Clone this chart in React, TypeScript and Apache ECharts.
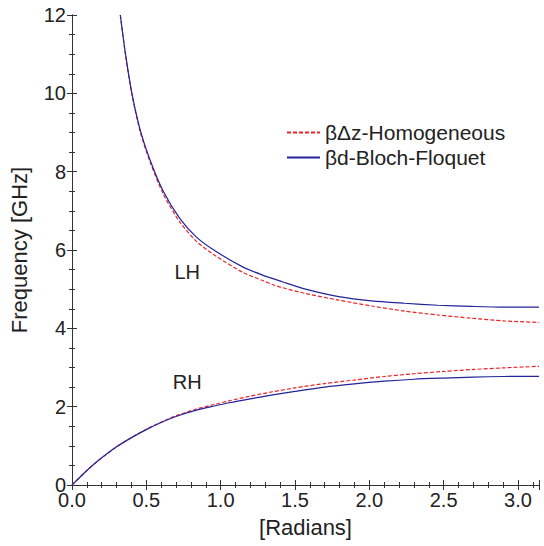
import React, { useEffect, useRef } from "react";
import * as echarts from "echarts";

// ---- Data ----
// Upper (left-handed) band
const UPPER_BLOCH_X = [0.325, 0.36, 0.403, 0.46, 0.525, 0.614, 0.726, 0.837, 0.97, 1.148, 1.282, 1.415, 1.571, 1.794, 2.016, 2.238, 2.461, 2.684, 2.906, 3.1416];
const UPPER_BLOCH_Y = [12.0, 11.0, 10.0, 9.05, 8.3, 7.5, 6.8, 6.33, 5.96, 5.57, 5.36, 5.19, 5.0, 4.81, 4.7, 4.64, 4.59, 4.56, 4.54, 4.54];
const UPPER_HOMO_X = [0.325, 0.36, 0.403, 0.46, 0.525, 0.614, 0.726, 0.837, 0.97, 1.148, 1.282, 1.348, 1.415, 1.571, 1.794, 2.016, 2.238, 2.461, 2.684, 2.906, 3.1416];
const UPPER_HOMO_Y = [12.0, 10.98, 9.97, 9.0, 8.25, 7.43, 6.71, 6.22, 5.84, 5.43, 5.22, 5.12, 5.04, 4.89, 4.72, 4.57, 4.44, 4.34, 4.26, 4.19, 4.15];
// Lower (right-handed) band
const LOWER_X = [0, 0.1, 0.169, 0.302, 0.4, 0.503, 0.614, 0.7, 0.837, 0.95, 1.059, 1.2, 1.35, 1.5, 1.7, 1.9, 2.1, 2.3, 2.5, 2.7, 2.9, 3.1416];
const LOWER_BLOCH_Y = [0, 0.37, 0.6, 0.98, 1.21, 1.42, 1.62, 1.75, 1.91, 2.01, 2.1, 2.2, 2.3, 2.39, 2.5, 2.58, 2.65, 2.7, 2.73, 2.755, 2.77, 2.775];
const LOWER_HOMO_Y = [0, 0.37, 0.6, 0.98, 1.21, 1.43, 1.63, 1.77, 1.94, 2.05, 2.15, 2.27, 2.38, 2.48, 2.59, 2.68, 2.77, 2.84, 2.9, 2.95, 2.99, 3.03];

const SERIES_NAMES = ["\u03b2\u0394z-Homogeneous", "\u03b2d-Bloch-Floquet"];
const BAND_LABELS = ["LH", "RH"];
const BAND_LABEL_X = [0.775, 0.775];
const BAND_LABEL_Y = [5.44, 2.62];
const X_MIN = 0;
const X_MAX = Math.PI;
const Y_MIN = 0;
const Y_MAX = 12;

const zip = (xs: number[], ys: number[]) => xs.map((x, i) => [x, ys[i]]);

const FONT = "'Liberation Sans', Arial, Helvetica, sans-serif";
const TEXT = "#222";
const RED = "#e8242b";
const BLUE = "#23239a";

export default function App() {
  const ref = useRef<HTMLDivElement>(null);
  useEffect(() => {
    if (!ref.current) return;
    const chart = echarts.init(ref.current, undefined, { renderer: "svg" });
    const tickCommon = {
      axisLine: { show: true, lineStyle: { color: "#333", width: 1 } },
      axisTick: { show: true, inside: true, length: 5, lineStyle: { color: "#333" } },
      splitLine: { show: false },
    };
    const xCommon = {
      type: "value",
      min: X_MIN,
      max: X_MAX,
      interval: 0.5,
      minorTick: { show: true, splitNumber: 5, length: 3, lineStyle: { color: "#333" } },
      ...tickCommon,
    };
    const yCommon = {
      type: "value",
      min: Y_MIN,
      max: Y_MAX,
      interval: 2,
      minorTick: { show: true, splitNumber: 4, length: 3, lineStyle: { color: "#333" } },
      ...tickCommon,
    };
    const lineSeries = (name: string, data: number[][], color: string, dashed: boolean) => ({
      type: "line",
      name,
      data,
      showSymbol: false,
      symbol: "none",
      smooth: 0.25,
      clip: true,
      lineStyle: { color, width: 1.2, type: dashed ? [4, 2] : "solid" },
      itemStyle: { color },
    });
    chart.setOption({
      animation: false,
      backgroundColor: "#fff",
      textStyle: { fontFamily: FONT, color: TEXT },
      grid: { left: 68, right: 5, top: 15, bottom: 61, containLabel: false },
      legend: {
        data: SERIES_NAMES,
        orient: "vertical",
        left: 281,
        top: 117,
        itemWidth: 33,
        itemHeight: 12,
        itemGap: 4,
        itemStyle: { opacity: 0 },
        textStyle: { fontFamily: FONT, fontSize: 21, color: TEXT },
      },
      xAxis: [
        {
          ...xCommon,
          position: "bottom",
          name: "[Radians]",
          nameLocation: "middle",
          nameGap: 31,
          nameTextStyle: { fontFamily: FONT, fontSize: 22, color: TEXT },
          axisLabel: {
            fontFamily: FONT,
            fontSize: 20,
            color: TEXT,
            margin: 5,
            showMaxLabel: false,
            formatter: (v: number) => v.toFixed(1),
          },
        },
        { ...xCommon, position: "top", axisLabel: { show: false } },
      ],
      yAxis: [
        {
          ...yCommon,
          position: "left",
          name: "Frequency [GHz]",
          nameLocation: "middle",
          nameGap: 42,
          nameTextStyle: { fontFamily: FONT, fontSize: 22, color: TEXT },
          axisLabel: { fontFamily: FONT, fontSize: 20, color: TEXT, margin: 6 },
        },
        { ...yCommon, position: "right", axisLabel: { show: false } },
      ],
      series: [
        lineSeries(SERIES_NAMES[0], zip(UPPER_HOMO_X, UPPER_HOMO_Y), RED, true),
        lineSeries(SERIES_NAMES[1], zip(UPPER_BLOCH_X, UPPER_BLOCH_Y), BLUE, false),
        lineSeries(SERIES_NAMES[0], zip(LOWER_X, LOWER_HOMO_Y), RED, true),
        lineSeries(SERIES_NAMES[1], zip(LOWER_X, LOWER_BLOCH_Y), BLUE, false),
        {
          type: "scatter",
          name: "bandLabels",
          silent: true,
          symbolSize: 0,
          itemStyle: { color: "rgba(0,0,0,0)" },
          data: BAND_LABELS.map((t, i) => ({ name: t, value: [BAND_LABEL_X[i], BAND_LABEL_Y[i]] })),
          label: {
            show: true,
            position: "inside",
            fontFamily: FONT,
            fontSize: 20,
            color: TEXT,
            opacity: 1,
            formatter: (p: any) => p.name,
          },
        },
      ],
    });
    return () => chart.dispose();
  }, []);
  return (
    <div
      ref={ref}
      style={{ position: "fixed", left: 0, top: 0, width: 544, height: 546, background: "#fff" }}
    />
  );
}
